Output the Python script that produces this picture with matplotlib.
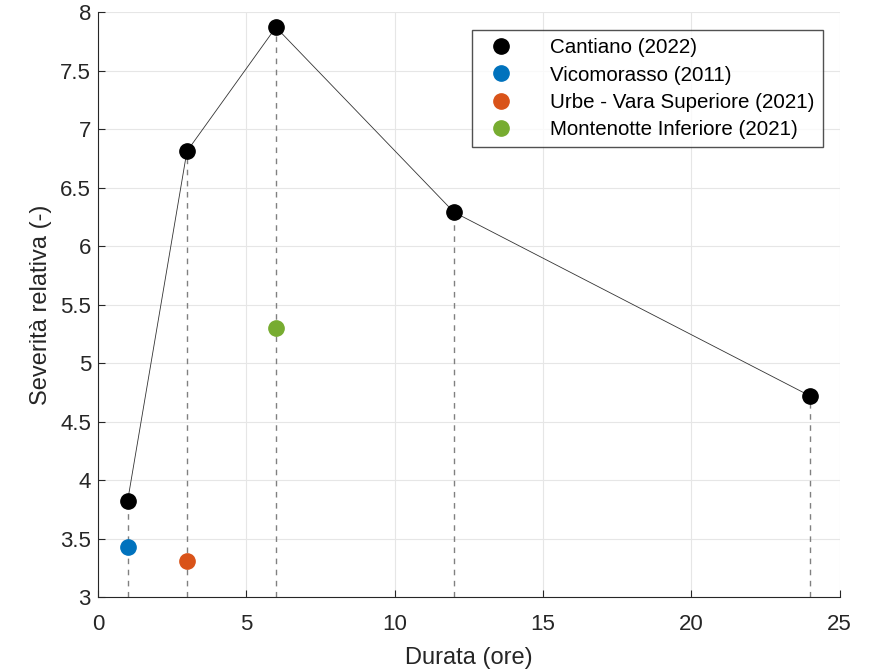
import matplotlib.pyplot as plt

plt.rcParams['font.family'] = ['Liberation Sans', 'DejaVu Sans']

# Cantiano (2022) series
durata_cantiano = [1, 3, 6, 12, 24]
severita_cantiano = [3.82, 6.81, 7.87, 6.29, 4.72]

# other single events
altri_eventi = [
    ("Vicomorasso (2011)", 1, 3.43, "#0072BD"),
    ("Urbe - Vara Superiore (2021)", 3, 3.31, "#D95319"),
    ("Montenotte Inferiore (2021)", 6, 5.30, "#77AC30"),
]

x_ticks = [0, 5, 10, 15, 20, 25]
y_ticks = [3, 3.5, 4, 4.5, 5, 5.5, 6, 6.5, 7, 7.5, 8]


def main() -> None:
    fig = plt.figure(figsize=(8.82, 6.71), dpi=100)
    ax = fig.add_axes([0.111, 0.110, 0.841, 0.872])

    # dashed drop lines from the x axis up to each Cantiano point
    ax.vlines(durata_cantiano, 3, severita_cantiano, colors="#808080",
              linestyles=(0, (4, 4)), linewidth=1.0, zorder=1)
    ax.plot(durata_cantiano, severita_cantiano, color="#333333", linewidth=0.6, zorder=2)
    ax.plot(durata_cantiano, severita_cantiano, "o", color="black", markersize=11,
            linestyle="none", label="Cantiano (2022)", zorder=3)
    for nome, x, y, col in altri_eventi:
        ax.plot([x], [y], "o", color=col, markersize=11, linestyle="none",
                label=nome, zorder=3)

    ax.set_xlim(0, 25)
    ax.set_ylim(3, 8)
    ax.set_xticks(x_ticks)
    ax.set_yticks(y_ticks)
    ax.set_yticklabels([f"{v:g}" for v in y_ticks])
    ax.grid(True, color="#e6e6e6", linewidth=0.8)
    ax.set_axisbelow(True)
    for side in ("top", "right"):
        ax.spines[side].set_visible(False)
    for side in ("left", "bottom"):
        ax.spines[side].set_color("#262626")
    ax.tick_params(direction="in", length=5, colors="#262626", labelsize=16)
    ax.tick_params(axis="x", pad=12)
    ax.tick_params(axis="y", pad=5)
    ax.set_xlabel("Durata (ore)", fontsize=17, color="#262626", labelpad=9)
    ax.set_ylabel("Severità relativa (-)", fontsize=17, color="#262626", labelpad=6)

    leg = ax.legend(loc="upper right", bbox_to_anchor=(0.977, 0.969), fontsize=14.8,
                    frameon=True, fancybox=False, edgecolor="#262626",
                    handletextpad=1.4, borderpad=0.4, labelspacing=0.4,
                    borderaxespad=0.0)
    leg.get_frame().set_linewidth(1.0)

    fig.savefig("out.png", dpi=100)
    plt.close(fig)


if __name__ == "__main__":
    main()
